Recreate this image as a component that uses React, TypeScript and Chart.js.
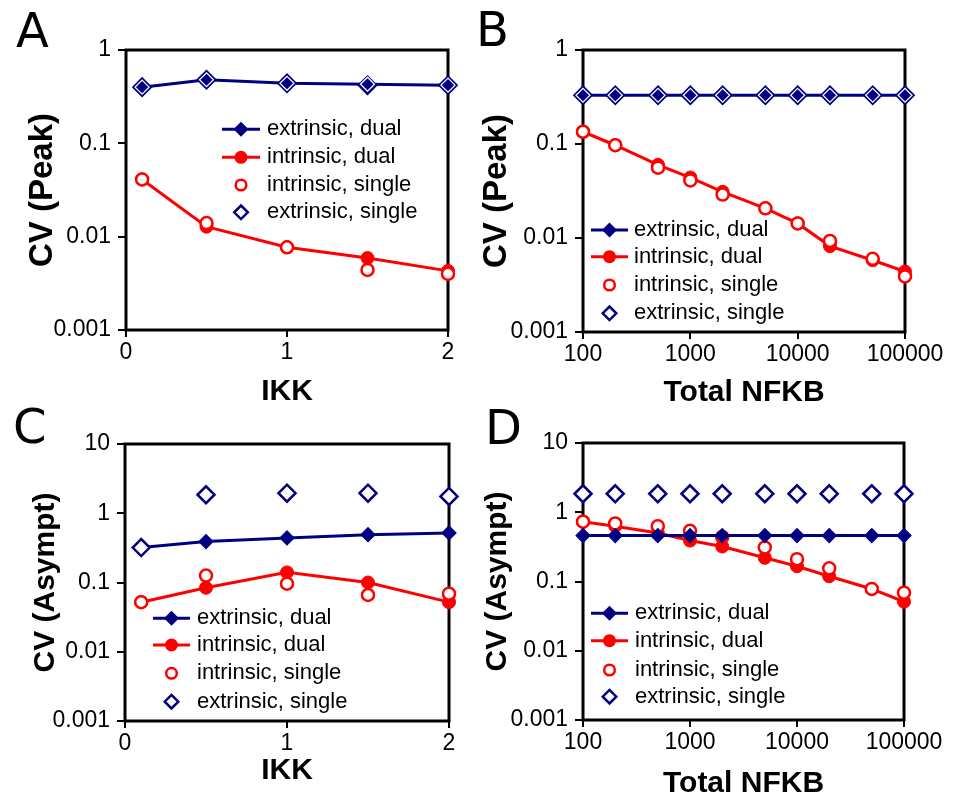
import React, { useEffect, useRef } from 'react';
import { Chart, registerables } from 'chart.js';

Chart.register(...registerables);

const W = 956;
const H = 804;
const NAVY = '#000080';
const RED = '#FF0000';
const FONT = "'Liberation Sans', Arial, Helvetica, sans-serif";
const LETTER_FONT = "'DejaVu Sans', Verdana, sans-serif";

// x values
const ikkLevels = [0.1, 0.5, 1, 1.5, 2];
const nfkbTotals = [100, 200, 500, 1000, 2000, 5000, 10000, 20000, 50000, 100000];

// tick values
const ikkTicks = [0, 1, 2];
const nfkbTicks = [100, 1000, 10000, 100000];
const peakTicks = [0.001, 0.01, 0.1, 1];
const asymptTicks = [0.001, 0.01, 0.1, 1, 10];

const seriesNames = ['extrinsic, dual', 'intrinsic, dual', 'intrinsic, single', 'extrinsic, single'];

// A: CV of peak vs IKK
const peakIkkExtDual = [0.40, 0.48, 0.44, 0.43, 0.42];
const peakIkkIntDual = [0.041, 0.0128, 0.0077, 0.0059, 0.0043];
const peakIkkIntSingle = [0.041, 0.014, 0.0077, 0.0044, 0.004];
const peakIkkExtSingle = [0.40, 0.48, 0.44, 0.42, 0.42];

// B: CV of peak vs total NFKB
const peakNfkbExtDual = [0.33, 0.33, 0.33, 0.33, 0.33, 0.33, 0.33, 0.33, 0.33, 0.33];
const peakNfkbIntDual = [0.135, 0.097, 0.06, 0.044, 0.031, 0.0207, 0.0143, 0.0082, 0.0058, 0.0044];
const peakNfkbIntSingle = [0.135, 0.097, 0.056, 0.041, 0.029, 0.0207, 0.0143, 0.0093, 0.006, 0.0039];
const peakNfkbExtSingle = [0.33, 0.33, 0.33, 0.33, 0.33, 0.33, 0.33, 0.33, 0.33, 0.33];

// C: CV of asymptote vs IKK
const asymIkkExtDual = [0.32, 0.39, 0.44, 0.49, 0.52];
const asymIkkIntDual = [0.052, 0.084, 0.14, 0.10, 0.052];
const asymIkkIntSingle = [0.052, 0.126, 0.096, 0.066, 0.069];
const asymIkkExtSingle = [0.32, 1.85, 1.95, 1.95, 1.75];

// D: CV of asymptote vs total NFKB
const asymNfkbExtDual = [0.46, 0.46, 0.46, 0.46, 0.46, 0.46, 0.46, 0.46, 0.46, 0.46];
const asymNfkbIntDual = [0.73, 0.63, 0.50, 0.39, 0.32, 0.22, 0.166, 0.119, 0.078, 0.051];
const asymNfkbIntSingle = [0.73, 0.69, 0.63, 0.54, 0.44, 0.31, 0.21, 0.155, 0.078, 0.069];
const asymNfkbExtSingle = [1.85, 1.85, 1.85, 1.85, 1.85, 1.85, 1.85, 1.85, 1.85, 1.85];

type Area = { left: number; top: number; right: number; bottom: number };
type LegendPos = { x0: number; x1: number; textX: number; rows: number[] };

type PanelSpec = {
  letter: string;
  letterX: number;
  letterY: number;
  xs: number[];
  xLog: boolean;
  xMin: number;
  xMax: number;
  xTicks: number[];
  yMax: number;
  yTicks: number[];
  xTitle: string;
  yTitle: string;
  yTitleSize: number;
  boxLeft: number;
  yTitleX: number;
  xTitleY: number;
  area: Area;
  extDual: number[];
  intDual: number[];
  intSingle: number[];
  extSingle: number[];
  order: number[]; // extDual, intDual, intSingle, extSingle
  dualRim: string;
  legend: LegendPos;
};

const panels: PanelSpec[] = [
  {
    letter: 'A', letterX: 16, letterY: 47,
    xs: ikkLevels, xLog: false, xMin: 0, xMax: 2, xTicks: ikkTicks,
    yMax: 1, yTicks: peakTicks,
    xTitle: 'IKK', yTitle: 'CV (Peak)', yTitleSize: 33,
    boxLeft: 0, yTitleX: 43, xTitleY: 392,
    area: { left: 126, top: 50, right: 448, bottom: 330 },
    extDual: peakIkkExtDual, intDual: peakIkkIntDual, intSingle: peakIkkIntSingle, extSingle: peakIkkExtSingle,
    order: [2, 1, 0, 3], dualRim: '#ffffff',
    legend: { x0: 222, x1: 260, textX: 267, rows: [129.3, 157.3, 185, 212.3] },
  },
  {
    letter: 'B', letterX: 476, letterY: 46,
    xs: nfkbTotals, xLog: true, xMin: 100, xMax: 100000, xTicks: nfkbTicks,
    yMax: 1, yTicks: peakTicks,
    xTitle: 'Total NFKB', yTitle: 'CV (Peak)', yTitleSize: 33,
    boxLeft: 478, yTitleX: 497, xTitleY: 393,
    area: { left: 583, top: 50, right: 905, bottom: 332 },
    extDual: peakNfkbExtDual, intDual: peakNfkbIntDual, intSingle: peakNfkbIntSingle, extSingle: peakNfkbExtSingle,
    order: [2, 1, 0, 3], dualRim: '#ffffff',
    legend: { x0: 591, x1: 628, textX: 634, rows: [230, 256.7, 285, 313.3] },
  },
  {
    letter: 'C', letterX: 13, letterY: 443,
    xs: ikkLevels, xLog: false, xMin: 0, xMax: 2, xTicks: ikkTicks,
    yMax: 10, yTicks: asymptTicks,
    xTitle: 'IKK', yTitle: 'CV (Asympt)', yTitleSize: 30,
    boxLeft: 0, yTitleX: 46, xTitleY: 771,
    area: { left: 125, top: 444, right: 449, bottom: 721 },
    extDual: asymIkkExtDual, intDual: asymIkkIntDual, intSingle: asymIkkIntSingle, extSingle: asymIkkExtSingle,
    order: [3, 1, 0, 2], dualRim: NAVY,
    legend: { x0: 153, x1: 190, textX: 197, rows: [618.3, 645, 673.3, 701.7] },
  },
  {
    letter: 'D', letterX: 485, letterY: 444,
    xs: nfkbTotals, xLog: true, xMin: 100, xMax: 100000, xTicks: nfkbTicks,
    yMax: 10, yTicks: asymptTicks,
    xTitle: 'Total NFKB', yTitle: 'CV (Asympt)', yTitleSize: 30,
    boxLeft: 478, yTitleX: 498, xTitleY: 784,
    area: { left: 583, top: 443, right: 904, bottom: 720 },
    extDual: asymNfkbExtDual, intDual: asymNfkbIntDual, intSingle: asymNfkbIntSingle, extSingle: asymNfkbExtSingle,
    order: [0, 2, 1, 3], dualRim: NAVY,
    legend: { x0: 591, x1: 628, textX: 635, rows: [613.3, 640.7, 670, 696.7] },
  },
];

function diamondPath(ctx: CanvasRenderingContext2D, x: number, y: number, r: number) {
  ctx.beginPath();
  ctx.moveTo(x, y - r);
  ctx.lineTo(x + r, y);
  ctx.lineTo(x, y + r);
  ctx.lineTo(x - r, y);
  ctx.closePath();
}

function circlePath(ctx: CanvasRenderingContext2D, x: number, y: number, r: number) {
  ctx.beginPath();
  ctx.arc(x, y, r, 0, Math.PI * 2);
}

function drawLegend(ctx: CanvasRenderingContext2D, lg: LegendPos) {
  const mx = (lg.x0 + lg.x1) / 2;
  ctx.save();
  // lines for the two connected series
  ctx.lineWidth = 3;
  ctx.strokeStyle = NAVY;
  ctx.beginPath();
  ctx.moveTo(lg.x0, lg.rows[0]);
  ctx.lineTo(lg.x1, lg.rows[0]);
  ctx.stroke();
  ctx.strokeStyle = RED;
  ctx.beginPath();
  ctx.moveTo(lg.x0, lg.rows[1]);
  ctx.lineTo(lg.x1, lg.rows[1]);
  ctx.stroke();

  // markers
  ctx.fillStyle = NAVY;
  diamondPath(ctx, mx, lg.rows[0], 7.5);
  ctx.fill();
  ctx.fillStyle = RED;
  circlePath(ctx, mx, lg.rows[1], 6.5);
  ctx.fill();
  ctx.lineWidth = 2.5;
  ctx.fillStyle = '#ffffff';
  ctx.strokeStyle = RED;
  circlePath(ctx, mx, lg.rows[2], 5.3);
  ctx.fill();
  ctx.stroke();
  ctx.strokeStyle = NAVY;
  diamondPath(ctx, mx, lg.rows[3], 6.8);
  ctx.fill();
  ctx.stroke();

  // labels
  ctx.fillStyle = '#000000';
  ctx.font = `22px ${FONT}`;
  ctx.textBaseline = 'middle';
  ctx.textAlign = 'left';
  seriesNames.forEach((name, i) => ctx.fillText(name, lg.textX, lg.rows[i]));
  ctx.restore();
}

function buildConfig(p: PanelSpec): any {
  const xTitleLine = 36; // 30px bold at 1.2 line height
  const yTitleLine = p.yTitleSize * 1.2;
  const yAxisWidth = p.area.left - p.boxLeft;
  const xAxisHeight = p.xTitleY + xTitleLine / 2 - p.area.bottom;
  const pts = (ys: number[]) => p.xs.map((x, i) => ({ x, y: ys[i] }));

  const decor = {
    id: 'panelDecor' + p.letter,
    beforeDatasetsDraw(chart: any) {
      const { ctx, chartArea: a } = chart;
      ctx.save();
      ctx.strokeStyle = '#000000';
      ctx.lineWidth = 3;
      ctx.strokeRect(a.left, a.top, a.right - a.left, a.bottom - a.top);
      ctx.restore();
    },
    afterDraw(chart: any) {
      const ctx: CanvasRenderingContext2D = chart.ctx;
      drawLegend(ctx, p.legend);
      ctx.save();
      ctx.fillStyle = '#000000';
      ctx.font = `48px ${LETTER_FONT}`;
      ctx.textBaseline = 'alphabetic';
      ctx.textAlign = 'left';
      ctx.fillText(p.letter, p.letterX, p.letterY);
      ctx.restore();
    },
  };

  return {
    type: 'line',
    data: {
      datasets: [
        {
          label: seriesNames[0],
          data: pts(p.extDual),
          borderColor: NAVY,
          borderWidth: 3,
          pointStyle: 'rectRot',
          pointRadius: 7,
          pointBackgroundColor: NAVY,
          pointBorderColor: p.dualRim,
          pointBorderWidth: 1.2,
          order: p.order[0],
          clip: false,
        },
        {
          label: seriesNames[1],
          data: pts(p.intDual),
          borderColor: RED,
          borderWidth: 3,
          pointStyle: 'circle',
          pointRadius: 6.5,
          pointBackgroundColor: RED,
          pointBorderColor: RED,
          pointBorderWidth: 1,
          order: p.order[1],
          clip: false,
        },
        {
          label: seriesNames[2],
          data: pts(p.intSingle),
          showLine: false,
          borderColor: RED,
          pointStyle: 'circle',
          pointRadius: 6,
          pointBackgroundColor: '#ffffff',
          pointBorderColor: RED,
          pointBorderWidth: 2.5,
          order: p.order[2],
          clip: false,
        },
        {
          label: seriesNames[3],
          data: pts(p.extSingle),
          showLine: false,
          borderColor: NAVY,
          pointStyle: 'rectRot',
          pointRadius: 8.5,
          pointBackgroundColor: '#ffffff',
          pointBorderColor: NAVY,
          pointBorderWidth: 2.5,
          order: p.order[3],
          clip: false,
        },
      ],
    },
    options: {
      responsive: false,
      animation: false,
      events: [],
      layout: {
        padding: {
          left: p.boxLeft,
          top: p.area.top,
          right: W - p.area.right,
          bottom: H - p.area.bottom - xAxisHeight,
        },
      },
      plugins: {
        legend: { display: false },
        tooltip: { enabled: false },
        title: { display: false },
      },
      scales: {
        x: {
          type: p.xLog ? 'logarithmic' : 'linear',
          min: p.xMin,
          max: p.xMax,
          afterBuildTicks: (s: any) => {
            s.ticks = p.xTicks.map((v) => ({ value: v }));
          },
          afterFit: (s: any) => {
            s.height = xAxisHeight;
          },
          grid: { display: true, drawOnChartArea: false, drawTicks: true, tickLength: 7, color: '#000000', lineWidth: 2 },
          border: { display: false },
          ticks: {
            color: '#000000',
            font: { family: FONT, size: 23 },
            padding: 2,
            maxRotation: 0,
            autoSkip: false,
            callback: (v: any) => String(v),
          },
          title: {
            display: true,
            text: p.xTitle,
            color: '#000000',
            font: { family: FONT, size: 30, weight: 'bold', lineHeight: 1.2 },
            padding: { top: 0, bottom: 0 },
          },
        },
        y: {
          type: 'logarithmic',
          min: 0.001,
          max: p.yMax,
          afterBuildTicks: (s: any) => {
            s.ticks = p.yTicks.map((v) => ({ value: v }));
          },
          afterFit: (s: any) => {
            s.width = yAxisWidth;
          },
          grid: { display: true, drawOnChartArea: false, drawTicks: true, tickLength: 8, color: '#000000', lineWidth: 2 },
          border: { display: false },
          ticks: {
            color: '#000000',
            font: { family: FONT, size: 23 },
            padding: 7,
            autoSkip: false,
            callback: (v: any) => String(v),
          },
          title: {
            display: true,
            text: p.yTitle,
            color: '#000000',
            font: { family: FONT, size: p.yTitleSize, weight: 'bold', lineHeight: 1.2 },
            padding: { top: p.yTitleX - p.boxLeft - yTitleLine / 2, bottom: 0 },
          },
        },
      },
    },
    plugins: [decor],
  };
}

function Panel({ spec }: { spec: PanelSpec }) {
  const ref = useRef<HTMLCanvasElement>(null);
  useEffect(() => {
    if (!ref.current) return;
    const chart = new Chart(ref.current, buildConfig(spec));
    return () => chart.destroy();
  }, [spec]);
  return (
    <canvas
      ref={ref}
      width={W}
      height={H}
      style={{ position: 'absolute', left: 0, top: 0, width: W, height: H }}
    />
  );
}

export default function App() {
  return (
    <div style={{ position: 'fixed', left: 0, top: 0, width: W, height: H, background: '#ffffff' }}>
      {panels.map((p) => (
        <Panel key={p.letter} spec={p} />
      ))}
    </div>
  );
}
